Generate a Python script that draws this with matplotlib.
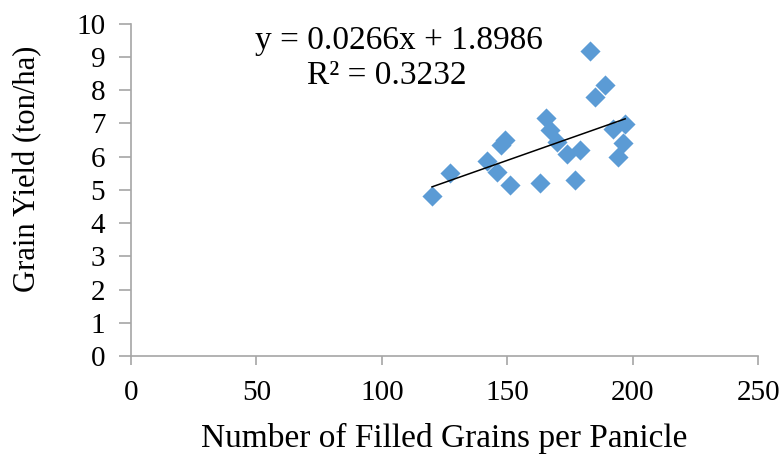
import matplotlib.pyplot as plt
import numpy as np

# filled grains per panicle vs grain yield (ton/ha)
grains = [120, 127, 142, 146, 147.5, 149, 151, 163, 165.5, 167, 170, 174,
          179, 177, 183, 189, 185, 192, 197, 196, 194]
yield_t = [4.83, 5.5, 5.86, 5.53, 6.34, 6.5, 5.16, 5.21, 7.17, 6.79, 6.44, 6.09,
           6.19, 5.29, 9.17, 8.17, 7.79, 6.84, 6.97, 6.41, 6.0]

slope = 0.0266
intercept = 1.8986
r2 = 0.3232

x_ticks = [0, 50, 100, 150, 200, 250]
y_ticks = list(range(0, 11))

plt.rcParams['font.family'] = ['Liberation Serif', 'DejaVu Serif']

fig = plt.figure(figsize=(7.84, 4.57), dpi=100)
ax = fig.add_axes([0.167, 0.221, 0.800, 0.727])

ax.scatter(grains, yield_t, marker='D', s=105, color='#5B9BD5', linewidths=0, zorder=3)

# linear trendline
xs = np.array([min(grains), max(grains)])
ax.plot(xs, slope * xs + intercept, color='black', lw=1.1, zorder=4)

# trendline label (two lines, as in Excel)
ax.text(107, 9.5, f'y = {slope}x + {intercept}', ha='center', va='center', fontsize=24)
ax.text(102, 8.45, f'R² = {r2}', ha='center', va='center', fontsize=24)

ax.set_xlim(0, 250)
ax.set_ylim(0, 10)
ax.set_xticks(x_ticks)
ax.set_yticks(y_ticks)
ax.tick_params(labelsize=21, color='#A6A6A6', width=1.2, direction='out')
ax.tick_params(axis='y', length=8.5, pad=10)
ax.tick_params(axis='x', length=6.5, pad=11)
for s in ['top', 'right']:
    ax.spines[s].set_visible(False)
for s in ['left', 'bottom']:
    ax.spines[s].set_color('#A6A6A6')
    ax.spines[s].set_linewidth(1.2)

ax.set_xlabel('Number of Filled Grains per Panicle', fontsize=24, labelpad=12)
ax.set_ylabel('Grain Yield (ton/ha)', fontsize=22)
ax.yaxis.set_label_coords(-0.141, 0.563)

fig.savefig('out.png', dpi=100)
